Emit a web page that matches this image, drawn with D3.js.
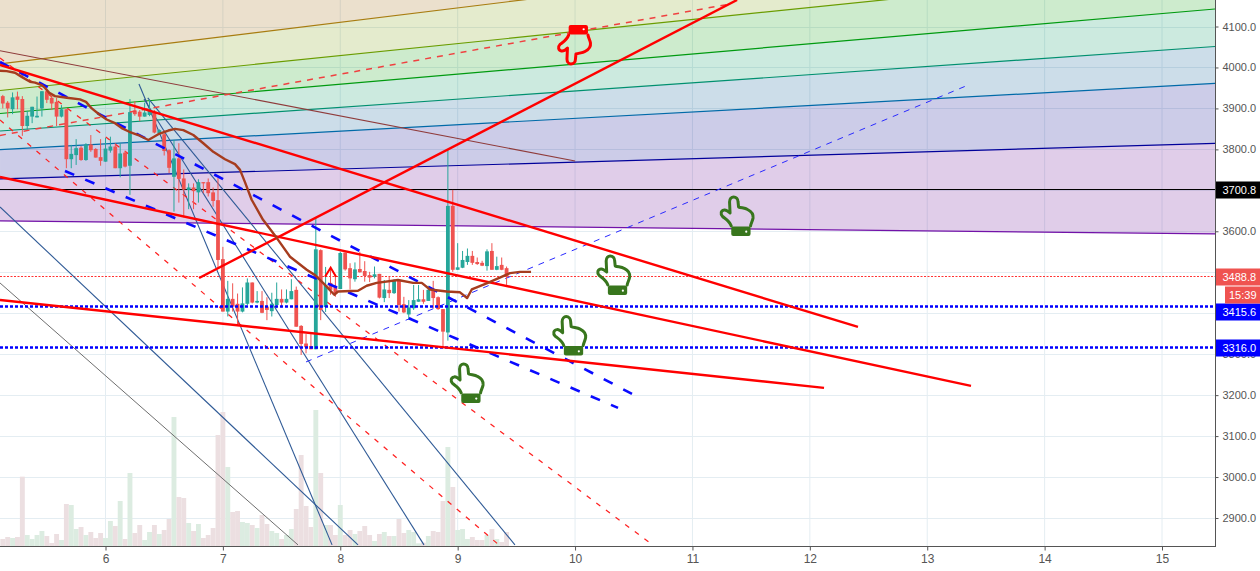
<!DOCTYPE html>
<html>
<head>
<meta charset="utf-8">
<title>BTC chart</title>
<script src="https://cdn.jsdelivr.net/npm/d3@7"></script>
<style>
  html, body { margin: 0; padding: 0; background: #fff; overflow: hidden; }
  text { font-family: "Liberation Sans", Arial, sans-serif; }
</style>
</head>
<body>
<svg id="chart" width="1260" height="571"></svg>
<script>
const dayTicks = [6, 7, 8, 9, 10, 11, 12, 13, 14, 15];
const priceTicks = [4100, 4000, 3900, 3800, 3700, 3600, 3500, 3400, 3300, 3200, 3100, 3000, 2900];
// 3500 and 3400 sit fully behind the price labels
const priceLabelTicks = [4100, 4000, 3900, 3800, 3700, 3600, 3300, 3200, 3100, 3000, 2900];

// hourly bars, first one at day 5 03:00. [open, high, low, close]
const firstDay = 5.125;
const candles = [
  [3930,3933,3900,3912],[3914,3918,3878,3900],[3898,3939,3886,3927],[3929,3941,3898,3921],[3923,3930,3833,3857],
  [3857,3894,3845,3882],[3880,3904,3864,3904],[3878,3929,3878,3882],[3900,3942,3880,3942],[3942,3945,3913,3921],
  [3926,3930,3896,3912],[3916,3926,3857,3880],[3880,3908,3878,3898],[3898,3898,3754,3776],[3776,3811,3754,3789],
  [3786,3825,3762,3803],[3804,3808,3772,3774],[3774,3815,3772,3812],[3812,3835,3794,3798],[3801,3803,3780,3780],
  [3781,3825,3760,3772],[3770,3828,3770,3802],[3797,3831,3792,3807],[3807,3815,3754,3754],[3754,3815,3732,3790],
  [3792,3797,3756,3758],[3760,3923,3689,3891],[3895,3917,3882,3886],[3892,3896,3869,3880],[3880,3914,3880,3890],
  [3884,3921,3881,3896],[3892,3896,3839,3841],[3839,3849,3837,3847],[3837,3847,3785,3796],[3798,3800,3742,3755],
  [3733,3823,3648,3778],[3778,3815,3670,3728],[3729,3751,3634,3702],[3701,3717,3654,3707],[3707,3717,3654,3698],
  [3695,3727,3670,3720],[3720,3720,3693,3717],[3720,3729,3685,3693],[3695,3707,3660,3674],[3676,3730,3510,3530],
  [3532,3562,3404,3404],[3404,3479,3392,3435],[3435,3473,3404,3416],[3423,3448,3371,3404],[3404,3463,3402,3424],
  [3423,3485,3420,3475],[3475,3475,3424,3426],[3426,3454,3424,3430],[3430,3454,3400,3401],[3416,3439,3383,3408],
  [3405,3450,3392,3423],[3420,3475,3412,3435],[3435,3458,3414,3426],[3426,3458,3424,3435],[3434,3483,3434,3454],
  [3457,3465,3367,3367],[3369,3371,3298,3325],[3326,3349,3302,3317],[3320,3349,3312,3312],[3312,3634,3312,3556],
  [3554,3556,3383,3408],[3415,3513,3403,3469],[3474,3510,3445,3457],[3464,3494,3440,3449],[3459,3550,3459,3547],
  [3548,3548,3504,3507],[3510,3522,3458,3485],[3483,3524,3477,3507],[3508,3550,3499,3500],[3503,3527,3477,3491],
  [3493,3501,3476,3487],[3489,3514,3485,3495],[3496,3496,3436,3438],[3437,3481,3427,3458],[3457,3489,3437,3449],
  [3449,3483,3447,3481],[3481,3483,3404,3420],[3422,3440,3400,3402],[3397,3432,3385,3414],[3412,3469,3408,3432],
  [3428,3469,3428,3434],[3434,3457,3423,3428],[3430,3467,3430,3457],[3457,3479,3412,3437],[3439,3441,3408,3410],
  [3410,3410,3317,3355],[3353,3799,3333,3662],[3662,3701,3501,3506],[3506,3571,3506,3512],[3511,3552,3510,3530],
  [3525,3558,3518,3540],[3540,3552,3518,3523],[3525,3536,3518,3520],[3523,3528,3515,3516],[3515,3556,3504,3551],
  [3552,3571,3506,3506],[3506,3538,3505,3515],[3518,3536,3505,3506],[3510,3514,3469,3489]
];
const volumes = [
  21,27,24,27,208,33,21,33,45,30,
  9,36,18,126,123,51,57,33,42,24,
  39,24,75,60,135,21,219,39,63,18,
  42,63,36,48,81,387,147,144,69,45,
  66,24,33,54,333,402,237,102,105,72,
  69,63,54,93,66,45,39,21,33,51,
  111,273,120,57,408,219,63,63,33,123,
  33,48,36,45,60,33,15,36,42,30,
  30,81,39,48,42,8,10,30,45,42,
  135,297,177,48,51,21,27,18,18,33,
  51,21,12,42
];

// moving average, [day, price]
const maLine = [
  [5.101,3992],[5.158,3991],[5.229,3987],[5.286,3977],[5.357,3965],[5.400,3963],[5.457,3957],[5.485,3950],
  [5.521,3938],[5.570,3930],[5.670,3926],[5.783,3922],[5.834,3916],[5.883,3900],[5.953,3884],[6.010,3873],
  [6.081,3864],[6.138,3852],[6.203,3843],[6.279,3835],[6.365,3823],[6.450,3837],[6.535,3846],[6.592,3850],
  [6.663,3847],[6.748,3835],[6.833,3815],[6.918,3794],[7.018,3776],[7.103,3764],[7.146,3750],[7.188,3720],
  [7.245,3677],[7.342,3628],[7.458,3584],[7.572,3538],[7.714,3506],[7.785,3493],[7.853,3474],[7.949,3445],
  [7.981,3453],[8.151,3455],[8.225,3467],[8.310,3474],[8.492,3481],[8.620,3474],[8.694,3474],[8.764,3458],
  [8.907,3453],[9.020,3451],[9.080,3437],[9.120,3458],[9.247,3473],[9.446,3498],[9.531,3501],[9.625,3501]
];

// fib fan: price of each ray at the left and right chart edge
const fanDays = [5.1014, 15.4515];
const fanRays = [
  [4008.5, 4372], [3943.8, 4247.7], [3887.6, 4142.7], [3844.9, 4051.2],
  [3799.3, 3960.9], [3727.8, 3814.7], [3625.2, 3593.5]
];
const fanCeiling = [4400, 4600]; // above the visible chart, closes the first band
const fanFills = ["#9b6405", "#789b05", "#059b05", "#00965f", "#005591", "#00008c", "#640591"];
const fanColors = ["#a87c10", "#6a9c00", "#009a10", "#00906f", "#006aa8", "#00009a", "#7212a8"];

// drawn lines: [day0, price0, day1, price1]
const redTrends = [
  [5.101, 4006, 12.41, 3366.5],
  [5.101, 3732.6, 13.373, 3222.5],
  [5.101, 3432.4, 12.121, 3217.6],
  [6.797, 3486, 11.38, 4164.7]
];
const redCaret = [[7.87, 3489], [7.918, 3511], [7.964, 3489]];
const blueDashed = [
  [5.101, 4013.4, 10.485, 3203],
  [5.655, 3747.3, 10.366, 3168.8]
];
const blueThinDashed = [[7.708, 3281, 13.33, 3954.8]];
const redDashedThick = [[5.101, 3834, 11.32, 4155]];
const redDashedThin = [
  [5.101, 3871.8, 9.361, 2832],
  [5.101, 4023, 10.638, 2839.2]
];
const navyLines = [
  [5.101, 3659.4, 8.151, 2834.3],
  [6.285, 3959.7, 7.93, 2834.3],
  [6.328, 3923, 8.713, 2834.3],
  [6.36, 3925.5, 9.488, 2834.3]
];
const grayLines = [[5.101, 3473.9, 7.64, 2834.3]];
const brownLines = [[5.101, 4041, 10.0, 3771.7]];

// horizontal price levels and their axis labels
const levelPrices = [3700.8, 3488.8, 3415.6, 3316.0];
const levelFill = ["#000000", "#ef5350", "#0000ff", "#0000ff"];
const levelShift = [0, 0, 5, 0];
const countdown = "15:39";

// pointing hands, [day, price] of their centres
const greenHands = [[11.38, 3637.4], [10.329, 3493.4], [9.954, 3345.3], [9.08, 3229.8]];
const redHands = [[9.995, 4054.9]];

const plotW = 1215, plotH = 546;
const RED = "#ef5350", TEAL = "#26a69a";

const x = d3.scaleLinear().domain([6, 15]).range([105.5, 1162]);
const y = d3.scaleLinear().domain([4100, 2900]).range([26.5, 518]);
const yVol = d3.scaleLinear().domain([0, 408]).range([plotH, plotH - 136]);

const svg = d3.select("#chart");
svg.append("clipPath").attr("id", "plot").append("rect")
  .attr("width", plotW).attr("height", plotH);
const plot = svg.append("g").attr("clip-path", "url(#plot)");

// grid
plot.append("g").selectAll("line").data(dayTicks).join("line")
  .attr("x1", d => x(d)).attr("x2", d => x(d))
  .attr("y1", 0).attr("y2", plotH)
  .attr("stroke", "#e4edf2");
plot.append("g").selectAll("line").data(priceTicks).join("line")
  .attr("x1", 0).attr("x2", plotW)
  .attr("y1", d => Math.round(y(d)) + 0.5).attr("y2", d => Math.round(y(d)) + 0.5)
  .attr("stroke", "#e4edf2");

// volume
const barW = x(1 / 24) - x(0);
const candleX = i => x(firstDay + i / 24);
plot.append("g").selectAll("rect").data(volumes).join("rect")
  .attr("x", (d, i) => candleX(i) - barW / 2)
  .attr("width", barW)
  .attr("y", d => yVol(d))
  .attr("height", d => plotH - yVol(d))
  .attr("fill", (d, i) => candles[i][3] >= candles[i][0] ? "#dcece1" : "#ecdfe1");

// fan bands
const bandTop = [fanCeiling, ...fanRays];
const fan = plot.append("g");
fanRays.forEach((ray, i) => {
  const above = bandTop[i];
  fan.append("path")
    .attr("d", d3.line()([
      [x(fanDays[0]), y(above[0])], [x(fanDays[1]), y(above[1])],
      [x(fanDays[1]), y(ray[1])], [x(fanDays[0]), y(ray[0])]
    ]) + "Z")
    .attr("fill", fanFills[i])
    .attr("fill-opacity", 0.2);
});
fan.selectAll("line").data(fanRays).join("line")
  .attr("x1", x(fanDays[0])).attr("x2", x(fanDays[1]))
  .attr("y1", d => y(d[0])).attr("y2", d => y(d[1]))
  .attr("stroke", (d, i) => fanColors[i])
  .attr("stroke-width", 1.2);

// levels under the candles, snapped so the 1px ones stay sharp
const levelLine = (price, color, width, dash) => plot.append("line")
  .attr("x1", 0).attr("x2", plotW)
  .attr("y1", Math.round(y(price)) - 0.5).attr("y2", Math.round(y(price)) - 0.5)
  .attr("stroke", color).attr("stroke-width", width)
  .attr("stroke-dasharray", dash);
levelLine(levelPrices[0], "#000", 1, null);
levelLine(levelPrices[1], "#f33", 1, "2 1.5");

function segments(data, color, width, dash) {
  plot.append("g").selectAll("line").data(data).join("line")
    .attr("x1", d => x(d[0])).attr("y1", d => y(d[1]))
    .attr("x2", d => x(d[2])).attr("y2", d => y(d[3]))
    .attr("stroke", color)
    .attr("stroke-width", width)
    .attr("stroke-dasharray", dash);
}

segments(grayLines, "#6f6f6f", 1, null);
segments(navyLines, "#2f5a96", 1.1, null);
segments(brownLines, "#8f3b3b", 1.1, null);
segments(redDashedThin, "#ff2020", 1.25, "5 7");
segments(blueThinDashed, "#2a2aff", 1, "6 6");

// candles
const candleG = plot.append("g");
candleG.selectAll("line").data(candles).join("line")
  .attr("x1", (d, i) => candleX(i)).attr("x2", (d, i) => candleX(i))
  .attr("y1", d => y(d[1])).attr("y2", d => y(d[2]))
  .attr("stroke", d => d[3] >= d[0] ? TEAL : RED);
candleG.selectAll("rect").data(candles).join("rect")
  .attr("x", (d, i) => candleX(i) - 1.9)
  .attr("width", 3.8)
  .attr("y", d => y(Math.max(d[0], d[3])))
  .attr("height", d => Math.max(1, Math.abs(y(d[0]) - y(d[3]))))
  .attr("fill", d => d[3] >= d[0] ? TEAL : RED);

segments(redDashedThick, "#f04040", 1.5, "6 6");
segments(blueDashed, "#0a0aff", 2.6, "10 12");
levelLine(levelPrices[2], "#0000ff", 2.6, "3 2");
levelLine(levelPrices[3], "#0000ff", 2.6, "3 2");

plot.append("path")
  .attr("d", d3.line().x(d => x(d[0])).y(d => y(d[1]))(redCaret))
  .attr("fill", "none").attr("stroke", "#f00").attr("stroke-width", 2);
segments(redTrends, "#f00", 2.4, null);

plot.append("path")
  .attr("d", d3.line().x(d => x(d[0])).y(d => y(d[1]))(maLine))
  .attr("fill", "none")
  .attr("stroke", "#a63c1e")
  .attr("stroke-width", 2.4)
  .attr("stroke-linejoin", "round");

// hands, flip = 1 points up, flip = -1 points down
const handOutline = "M-5.8 10 C-7.5 5 -11.5 3 -14.5 0.5 C-17 -2 -16 -5.5 -13 -6 C-10.5 -6.5 -8.5 -4.5 -7 -3 " +
  "L-7.5 -14 C-7.5 -17 -5.5 -19 -3.5 -19 C-1 -19 1 -17 1 -14 L1.5 -9 C4.5 -8 8 -8 10.5 -6.5 " +
  "C14.5 -4.5 16.5 -2 16 2 C15.5 5 14 7 13.5 10";
function drawHand(pos, color, flip) {
  const g = plot.append("g")
    .attr("transform", `translate(${x(pos[0])},${y(pos[1])}) scale(1,${flip})`);
  g.append("path")
    .attr("d", handOutline)
    .attr("fill", "none").attr("stroke", color)
    .attr("stroke-width", 3).attr("stroke-linecap", "round").attr("stroke-linejoin", "round");
  g.append("rect")
    .attr("x", -5.8).attr("y", 10.5).attr("width", 19.3).attr("height", 9.5).attr("rx", 2)
    .attr("fill", color);
  g.append("circle")
    .attr("cx", 9.2).attr("cy", 15.7).attr("r", 1.1).attr("fill", "#fff");
}
greenHands.forEach(p => drawHand(p, "#38761d", 1));
redHands.forEach(p => drawHand(p, "#f00", -1));

// axes
const yAxis = d3.axisRight(y).tickValues(priceLabelTicks).tickFormat(d3.format(".1f")).tickSize(3).tickPadding(4);
const yG = svg.append("g").attr("transform", `translate(${plotW + 0.5},0)`).call(yAxis);
const xAxis = d3.axisBottom(x).tickValues(dayTicks).tickFormat(d3.format("d")).tickSize(4).tickPadding(4);
const xG = svg.append("g").attr("transform", `translate(0,${plotH + 0.5})`).call(xAxis);
[yG, xG].forEach(g => {
  g.select(".domain").remove();
  g.selectAll("line").attr("stroke", "#555");
  g.selectAll("text").attr("fill", "#555").attr("font-size", 11);
});
xG.selectAll("text").attr("font-size", 12);

svg.append("line").attr("x1", plotW + 0.5).attr("x2", plotW + 0.5).attr("y1", 0).attr("y2", plotH + 0.5)
  .attr("stroke", "#555");
svg.append("line").attr("x1", 0).attr("x2", plotW + 1).attr("y1", plotH + 0.5).attr("y2", plotH + 0.5)
  .attr("stroke", "#555");

// price labels on the axis
const labels = svg.append("g").selectAll("g").data(levelPrices).join("g")
  .attr("transform", (d, i) => `translate(${plotW + 1},${Math.round(y(d)) + levelShift[i] - 8.5})`);
labels.append("rect")
  .attr("width", 44).attr("height", 17)
  .attr("fill", (d, i) => levelFill[i]);
labels.append("text")
  .attr("x", 6.5).attr("y", 12.5)
  .attr("font-size", 11).attr("fill", "#fff")
  .text(d => d3.format(".1f")(d));

const clock = svg.append("g")
  .attr("transform", `translate(${plotW + 10},${Math.round(y(levelPrices[1])) + 9.5})`);
clock.append("rect").attr("width", 35).attr("height", 17).attr("fill", RED);
clock.append("text").attr("x", 4).attr("y", 12.5)
  .attr("font-size", 11).attr("fill", "#fff").text(countdown);
</script>
</body>
</html>
